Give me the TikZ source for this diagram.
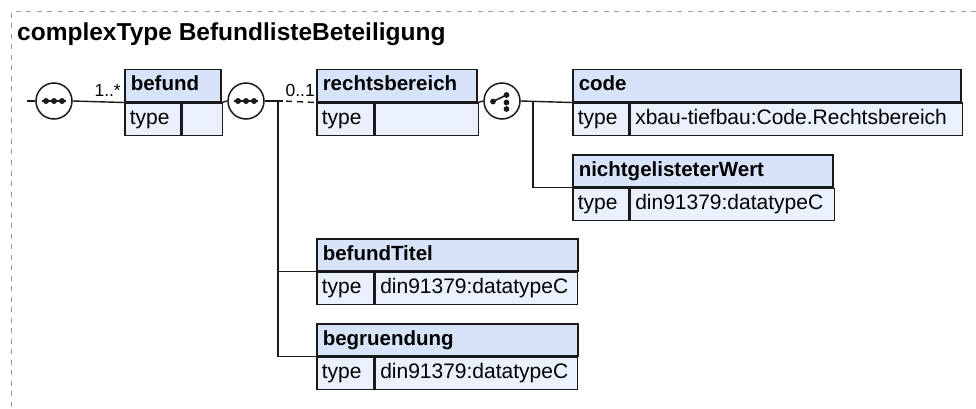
\documentclass[tikz,border=0pt]{standalone}
\usepackage{fontspec}
\setmainfont{Liberation Sans}
\definecolor{hdrfill}{HTML}{D6E3F8}
\definecolor{rowfill}{HTML}{EBF1FC}
\definecolor{framegray}{HTML}{9A9A9A}
\definecolor{ink}{HTML}{1A1A1A}
\begin{document}
\begin{tikzpicture}[x=1pt,y=-1pt,
  hdr/.style={draw=ink, line width=1.5pt, fill=hdrfill, rectangle, anchor=north west,
    inner xsep=6pt, inner ysep=0pt, minimum height=32pt, text height=15pt, text depth=4.5pt,
    text width=#1, align=left, font=\fontsize{20.5}{24}\selectfont\bfseries},
  cell/.style={draw=ink, line width=1.5pt, fill=rowfill, rectangle, anchor=north west,
    inner xsep=5pt, inner ysep=0pt, minimum height=32pt, text height=15pt, text depth=4.5pt,
    text width=#1, align=left, font=\fontsize{21}{24}\selectfont},
  conn/.style={draw=ink, line width=1.4pt},
  optconn/.style={draw=ink, line width=1.4pt, dash pattern=on 6pt off 5pt, dash phase=-3pt},
  comp/.style={circle, draw=ink, line width=1.5pt, fill=white, minimum size=36pt, inner sep=0pt},
  mult/.style={inner sep=0pt, font=\fontsize{17.5}{20}\selectfont},
  dotsym/.style={fill=ink}
]
\useasboundingbox (0,0) rectangle (976,409);
\fill[white] (0,0) rectangle (976,409);
% frame
\draw[framegray, line width=1pt, dash pattern=on 5pt off 5.5pt] (976,11.5) -- (11.5,11.5) -- (11.5,409);
% title
\node[anchor=base west, inner sep=0pt, font=\fontsize{24.5}{29}\selectfont\bfseries] (title) at (17,41) {complexType BefundlisteBeteiligung};

% compositors
\node[comp] (c1) at (54,101) {};
\node[comp] (c2) at (246,101) {};
\node[comp] (c3) at (502,101) {};

% element boxes
\node[hdr=84pt] (befund) at (124,69) {\mbox{befund}};
\node[cell=46pt] (befundT) at (befund.south west) {\mbox{type}};
\node[cell=30pt] (befundV) at (befundT.north east) {};

\node[hdr=148pt] (rechts) at (316,69) {\mbox{rechtsbereich}};
\node[cell=47pt] (rechtsT) at (rechts.south west) {\mbox{type}};
\node[cell=93pt] (rechtsV) at (rechtsT.north east) {};

\node[hdr=376pt] (code) at (572,69) {\mbox{code}};
\node[cell=46pt] (codeT) at (code.south west) {\mbox{type}};
\node[cell=322pt] (codeV) at (codeT.north east) {\mbox{xbau-tiefbau:Code.Rechtsbereich}};

\node[hdr=248pt] (nicht) at (572,154) {\mbox{nichtgelisteterWert}};
\node[cell=46pt] (nichtT) at (nicht.south west) {\mbox{type}};
\node[cell=194pt] (nichtV) at (nichtT.north east) {\mbox{din91379:datatypeC}};

\node[hdr=249pt] (titel) at (316,238) {\mbox{befundTitel}};
\node[cell=47pt] (titelT) at (titel.south west) {\mbox{type}};
\node[cell=192pt] (titelV) at (titelT.north east) {\mbox{din91379:datatypeC}};

\node[hdr=249pt] (begr) at (316,323) {\mbox{begruendung}};
\node[cell=47pt] (begrT) at (begr.south west) {\mbox{type}};
\node[cell=192pt] (begrV) at (begrT.north east) {\mbox{din91379:datatypeC}};

% multiplicities
\node[mult, anchor=base east] (m1) at (121,97) {1..*};
\node[mult, anchor=base east] (m2) at (315,97) {0..1};

% connectors
\coordinate (start) at (27,101);
\coordinate (bus1) at (278,101);
\coordinate (bus2) at (533,101);
\draw[conn] (start) -- (c1.west);
\draw[conn] (c1.east) -- (befund.south west);
\draw[conn] (befund.south east) -- (c2.west);
\draw[conn] (c2.east) -- (bus1) -- ++(5,0);
\draw[optconn] (bus1) ++(5,0) -- (rechts.south west);
\draw[conn] (bus1) -- (bus1 |- begr.south west) -- (begr.south west);
\draw[conn] (bus1 |- titel.south west) -- (titel.south west);
\draw[conn] (rechts.south east) -- (c3.west);
\draw[conn] (c3.east) -- (code.south west);
\draw[conn] (bus2) |- (nicht.south west);

% sequence icons
\foreach \c in {c1,c2}{
  \draw[ink, line width=1.5pt] (\c.center) ++(-12,0) -- ++(24,0);
  \foreach \dx in {-8,0,8}{\fill[dotsym] (\c.center) ++(\dx,0) circle (3);}
}
% choice icon
\draw[ink, line width=1.6pt] (c3.center) ++(-9,0.5) -- ++(13.5,-6.5);
\foreach \p in {(-9,0.5),(4.5,-6),(4.5,1.5),(4.5,8)}{\fill[dotsym] (c3.center) ++\p circle (2.9);}
\end{tikzpicture}
\end{document}
